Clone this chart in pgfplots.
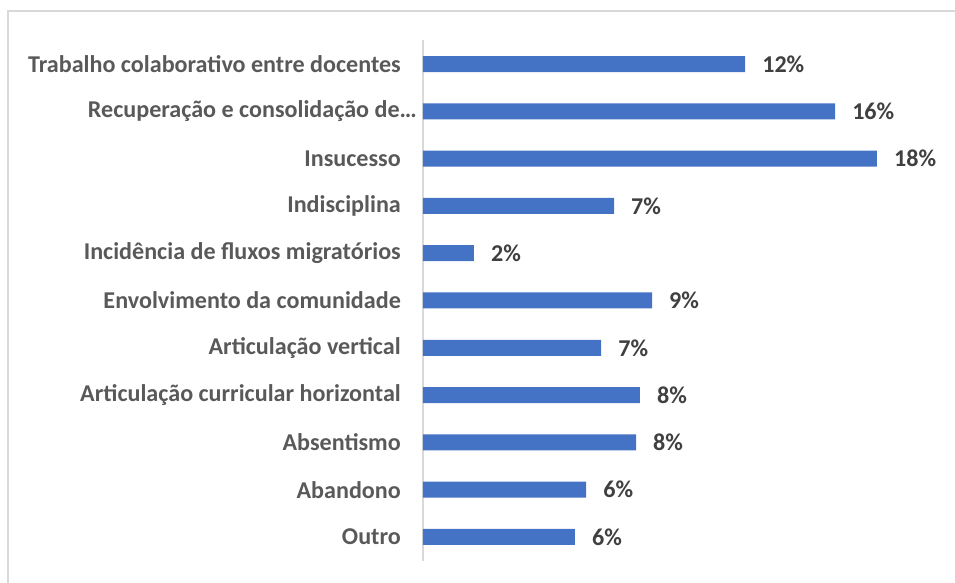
\documentclass[border=0pt]{standalone}
\usepackage{pgfplots}
\pgfplotsset{compat=1.18}
\usepackage{fontspec}
\setmainfont{Carlito}
\definecolor{barblue}{HTML}{4472C4}
\definecolor{lbl}{HTML}{595959}
\definecolor{dl}{HTML}{404040}
\definecolor{framec}{HTML}{D9D9D9}
\begin{document}
\begin{tikzpicture}
\useasboundingbox (0,0) rectangle (955bp,583bp);
\draw[framec, line width=1.5bp] (8bp,0) -- (8bp,572bp) -- (955bp,572bp);
\begin{axis}[
  at={(423bp,22.4bp)}, anchor=south west,
  scale only axis, width=517bp, height=520.2bp,
  xbar, bar width=16bp,
  xmin=0, xmax=20, ymin=-0.5, ymax=10.5,
  axis x line=none, axis y line=left,
  y axis line style={-, draw=framec, line width=1.5bp},
  major tick length=0pt, tick align=inside,
  ytick={0,...,10},
  yticklabels={Outro, Abandono, Absentismo, Articulação curricular horizontal, Articulação vertical, Envolvimento da comunidade, Incidência de fluxos migratórios, Indisciplina, Insucesso, {Recuperação e consolidação de…\hspace*{-16bp}}, Trabalho colaborativo entre docentes},
  ytick style={draw=none},
  yticklabel style={font=\fontsize{24.2}{29}\selectfont\bfseries, text=lbl, anchor=east, inner sep=0pt, xshift=-22bp},
  point meta=x,
  nodes near coords={\pgfmathprintnumber[fixed,precision=0,assume math mode=true]{\pgfplotspointmeta}\%},
  nodes near coords style={font=\fontsize{24.2}{29}\selectfont\bfseries, text=dl, anchor=west, inner sep=0pt, xshift=17bp},
  clip=false,
]
\addplot[fill=barblue, draw=none] coordinates {
(5.88,0) (6.31,1) (8.24,2) (8.39,3) (6.89,4) (8.86,5) (1.97,6) (7.39,7) (17.56,8) (15.94,9) (12.46,10)
};
\end{axis}
\end{tikzpicture}
\end{document}
